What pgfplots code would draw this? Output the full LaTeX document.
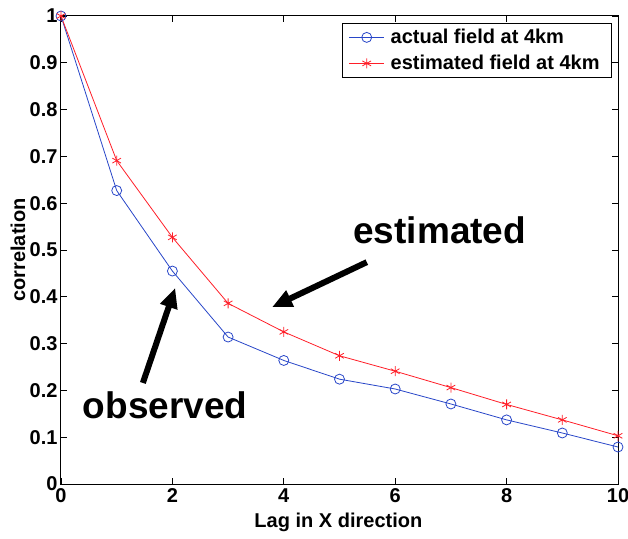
\documentclass[border=0pt]{standalone}
\usepackage{pgfplots}
\pgfplotsset{compat=1.18}
\usepackage{fontspec}
\setmainfont{Liberation Sans}
\usetikzlibrary{arrows.meta}
\definecolor{mblue}{RGB}{40,70,200}
\definecolor{mred}{RGB}{255,30,40}
\begin{document}
\begin{tikzpicture}
\path[use as bounding box] (-61pt,-54pt) rectangle (567pt,484pt);
\begin{axis}[
  at={(0pt,0pt)}, anchor=south west,
  scale only axis, width=557pt, height=468pt,
  xmin=0, xmax=10, ymin=0, ymax=1,
  xtick={0,2,4,6,8,10},
  ytick={0,0.1,0.2,0.3,0.4,0.5,0.6,0.7,0.8,0.9,1},
  tick align=inside, major tick length=6pt,
  tick style={black, line width=0.8pt},
  axis line style={line width=1pt},
  /pgf/number format/assume math mode=true,
  /pgf/number format/fixed,
  tick label style={font=\bfseries\fontsize{20}{20}\selectfont},
  xticklabel style={yshift=-1pt},
  label style={font=\bfseries\fontsize{20}{20}\selectfont},
  xlabel={Lag in X direction},
  ylabel={correlation},
  xlabel style={at={(axis description cs:0.498,0)}, anchor=center, yshift=-38pt},
  ylabel style={at={(axis description cs:0,0.50)}, anchor=center, yshift=43pt},
  legend style={at={(1,1)}, anchor=north east, xshift=-6pt, yshift=-7pt,
    font=\bfseries\fontsize{20}{22}\selectfont, draw=black, line width=0.8pt,
    inner xsep=6pt, inner ysep=4pt, row sep=6pt,
    nodes={inner xsep=6pt}},
  legend cell align=left,
  legend image code/.code={
    \draw[mark repeat=2, mark phase=2, #1, line width=0.8pt] plot coordinates {(0pt,0pt) (17.5pt,0pt) (35pt,0pt)};
  },
  clip=false,
]
\addplot[mblue, line width=0.8pt, mark=o, mark size=5pt, mark options={line width=0.8pt}] coordinates {
(0,1.0) (1,0.627) (2,0.455) (3,0.314) (4,0.264) (5,0.224) (6,0.203) (7,0.171) (8,0.137) (9,0.109) (10,0.079)};
\addlegendentry{actual field at 4km}
\addplot[mred, line width=0.8pt, mark=asterisk, mark size=5pt, mark options={line width=0.8pt}] coordinates {
(0,1.0) (1,0.691) (2,0.527) (3,0.386) (4,0.325) (5,0.274) (6,0.241) (7,0.206) (8,0.170) (9,0.137) (10,0.103)};
\addlegendentry{estimated field at 4km}
\draw[line width=6pt, -{Triangle[length=20pt,width=17pt]}] (axis cs:5.49,0.474) -- (axis cs:3.79,0.378);
\draw[line width=6pt, -{Triangle[length=20pt,width=17pt]}] (axis cs:1.47,0.216) -- (axis cs:2.05,0.419);
\node[font=\bfseries\fontsize{37}{37}\selectfont] at (axis cs:6.8,0.543) {estimated};
\node[font=\bfseries\fontsize{37}{37}\selectfont] at (axis cs:1.87,0.169) {observed};
\end{axis}
\end{tikzpicture}
\end{document}
